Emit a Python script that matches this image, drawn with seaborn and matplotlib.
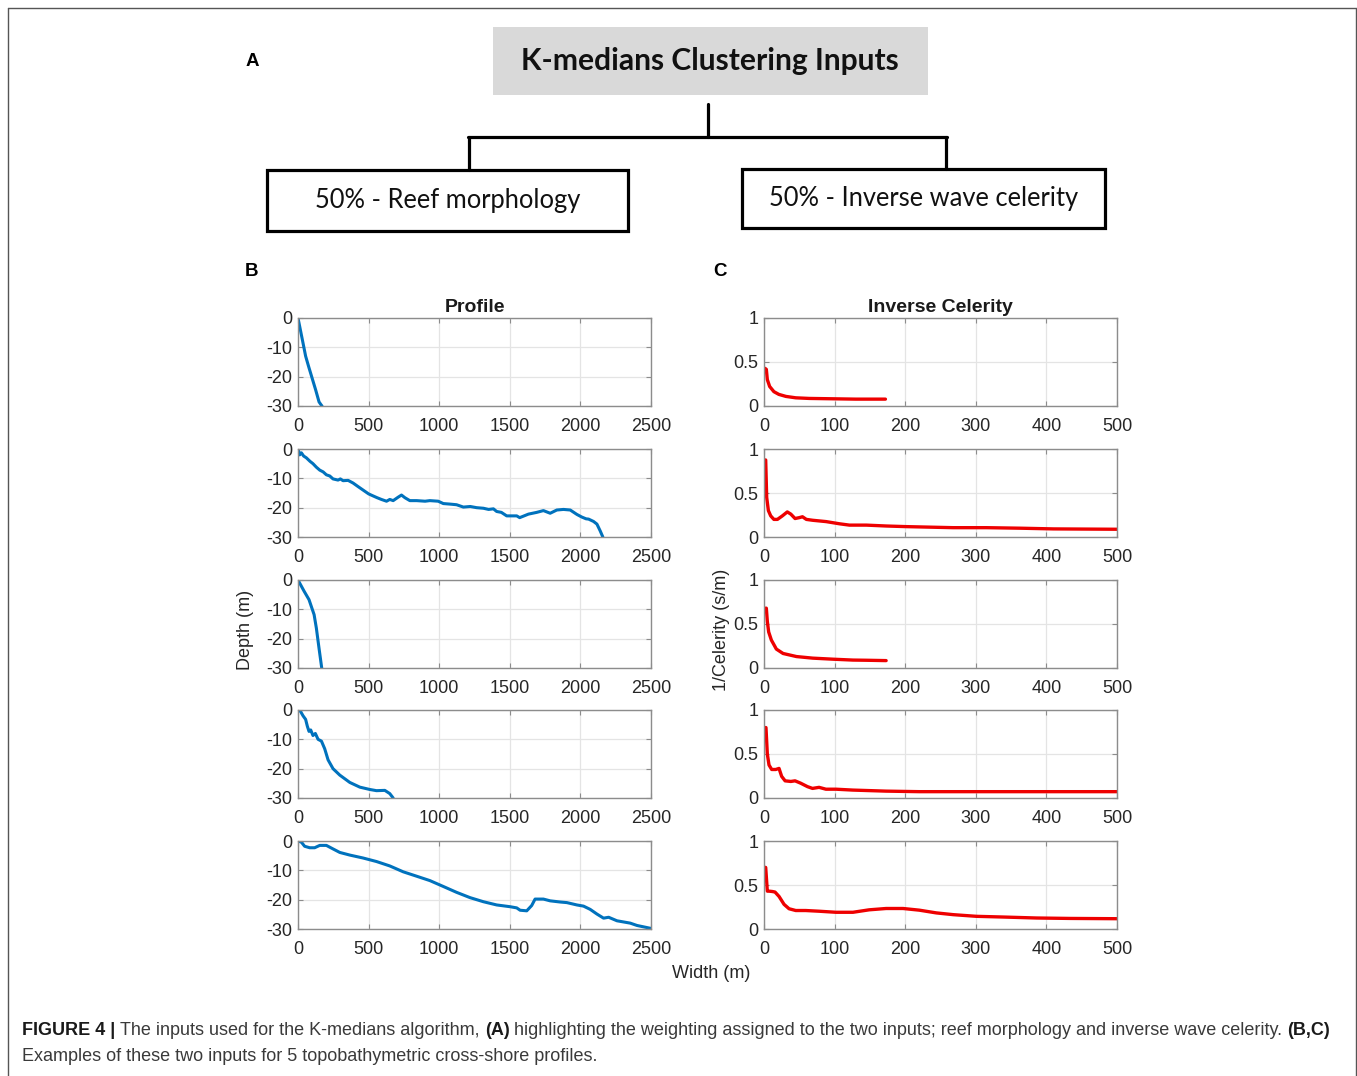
import numpy as np
import seaborn as sns

import matplotlib
matplotlib.use("Agg")  # headless mode (no GUI)

import matplotlib.pyplot as plt
from matplotlib.patches import Rectangle
from matplotlib.lines import Line2D

sns.set_theme(style="whitegrid")
plt.rcParams["font.family"] = ["Liberation Sans", "DejaVu Sans"]

# ---- data ----
# B: cross-shore profiles (width m, depth m)
prof1_x = [0, 20, 40, 54, 75, 100, 125, 149, 162, 170]
prof1_z = [0, -4.8, -9.6, -13, -16.5, -20.5, -24.5, -28.6, -29.5, -30]

prof2_x = [0, 12, 24, 40, 59, 85, 106, 130, 154, 178, 201, 225, 248, 284, 300, 319,
           355, 390, 425, 461, 500, 532, 560, 591, 627, 650, 674, 710, 733, 757,
           792, 840, 900, 934, 993, 1029, 1080, 1123, 1171, 1220, 1265, 1313, 1350,
           1384, 1407, 1440, 1478, 1549, 1570, 1596, 1632, 1691, 1738, 1786, 1833,
           1880, 1928, 1975, 2010, 2040, 2058, 2093, 2117, 2140, 2159]
prof2_z = [0, -2.0, -1.3, -2.4, -3.0, -4.2, -5.0, -6.2, -7.2, -7.8, -8.8, -9.2,
           -10.2, -10.6, -10.2, -10.8, -10.7, -11.6, -12.8, -14.0, -15.3, -16.0,
           -16.6, -17.2, -17.8, -17.2, -17.6, -16.4, -15.7, -16.6, -17.6, -17.6,
           -17.8, -17.6, -17.8, -18.6, -18.8, -19.0, -19.8, -19.6, -20.0, -20.2,
           -20.6, -20.4, -21.3, -21.6, -22.8, -22.8, -23.4, -22.9, -22.2, -21.6,
           -21.0, -21.9, -20.8, -20.6, -20.8, -22.3, -23.2, -23.8, -23.9, -24.7,
           -25.6, -27.9, -30]

prof3_x = [0, 43, 78, 114, 130, 149, 168]
prof3_z = [0, -3.8, -6.7, -11.8, -16.4, -23.3, -30]

prof4_x = [0, 17, 36, 54, 66, 78, 90, 106, 123, 142, 166, 189, 213, 248, 296, 367,
           438, 509, 556, 615, 650, 674]
prof4_z = [0, -0.4, -2.0, -3.2, -5.5, -7.3, -6.8, -8.7, -8.0, -10.0, -10.6, -13.2,
           -17.0, -20.0, -22.2, -24.7, -26.3, -27.1, -27.5, -27.4, -28.5, -30]

prof5_x = [0, 24, 47, 83, 118, 154, 201, 248, 296, 367, 461, 556, 650, 745, 840,
           934, 1029, 1123, 1218, 1313, 1407, 1502, 1549, 1573, 1620, 1655, 1679,
           1738, 1786, 1857, 1904, 1975, 2022, 2069, 2117, 2164, 2200, 2259, 2353,
           2401, 2500]
prof5_z = [0, -0.4, -1.8, -2.3, -2.3, -1.5, -1.5, -2.7, -3.9, -4.8, -5.8, -7.0, -8.5,
           -10.5, -12.0, -13.5, -15.5, -17.5, -19.3, -20.7, -21.8, -22.4, -22.8,
           -23.6, -23.8, -22.0, -19.8, -19.8, -20.4, -20.8, -21.0, -21.8, -22.2,
           -23.3, -24.9, -26.3, -26.0, -27.2, -28.0, -28.8, -29.8]

# C: inverse celerity (width m, s/m)
cel1_x = [1.4, 3.3, 4.7, 8, 14, 21, 31, 45, 64, 97, 130, 172]
cel1_y = [0.428, 0.416, 0.30, 0.222, 0.163, 0.132, 0.109, 0.093, 0.086, 0.082,
          0.078, 0.078]

cel2_x = [0.9, 2.4, 3.8, 6.2, 9.5, 14, 19, 26, 33, 38, 44, 50, 54.5, 60, 69, 88,
          107, 121, 145, 173, 201, 268, 315, 363, 410, 500]
cel2_y = [0.875, 0.875, 0.45, 0.30, 0.24, 0.20, 0.20, 0.24, 0.285, 0.26, 0.21,
          0.22, 0.23, 0.20, 0.19, 0.175, 0.15, 0.135, 0.135, 0.125, 0.118, 0.106,
          0.106, 0.10, 0.092, 0.088]

cel3_x = [2.4, 3.3, 4.7, 6.6, 10.4, 17.5, 27, 46, 69, 98, 126, 145, 173]
cel3_y = [0.68, 0.68, 0.53, 0.41, 0.318, 0.215, 0.165, 0.13, 0.112, 0.10, 0.09,
          0.088, 0.084]

cel4_x = [1.4, 2.8, 4.7, 7.1, 10.9, 16.6, 21.3, 25, 29.9, 38, 44, 52, 61.6, 68.7,
          78, 87.7, 102, 125.6, 173, 220, 315, 500]
cel4_y = [0.80, 0.80, 0.50, 0.375, 0.324, 0.324, 0.336, 0.246, 0.195, 0.188, 0.195,
          0.168, 0.129, 0.109, 0.121, 0.10, 0.10, 0.09, 0.078, 0.072, 0.072, 0.072]

cel5_x = [0.9, 2.4, 4.7, 7.1, 11.8, 15.6, 21.3, 28.4, 35.5, 45, 59, 78, 102, 126,
          149, 173, 197, 220, 244, 268, 301, 339, 386, 434, 500]
cel5_y = [0.70, 0.70, 0.43, 0.43, 0.426, 0.42, 0.37, 0.28, 0.23, 0.21, 0.21, 0.202,
          0.19, 0.19, 0.218, 0.233, 0.233, 0.214, 0.183, 0.163, 0.144, 0.136,
          0.125, 0.12, 0.117]

profiles = [(prof1_x, prof1_z), (prof2_x, prof2_z), (prof3_x, prof3_z),
            (prof4_x, prof4_z), (prof5_x, prof5_z)]
celerities = [(cel1_x, cel1_y), (cel2_x, cel2_y), (cel3_x, cel3_y),
              (cel4_x, cel4_y), (cel5_x, cel5_y)]

profile_xticks = [0, 500, 1000, 1500, 2000, 2500]
profile_yticks = [0, -10, -20, -30]
celerity_xticks = [0, 100, 200, 300, 400, 500]
celerity_yticks = [0, 0.5, 1]

# ---- figure ----
W, H = 1357, 1076


def fx(x):
    return x / W


def fy(y):
    return 1 - y / H


fig = plt.figure(figsize=(W / 100, H / 100), dpi=100)
fig.patch.set_facecolor("white")

EDGE = "#8c8c8c"
TXT = "#262626"


def style_axes(ax, xticks, yticks, ylabels):
    ax.set_facecolor("white")
    ax.set_xlim(xticks[0], xticks[-1])
    ax.set_ylim(min(yticks), max(yticks))
    ax.set_xticks(xticks)
    ax.set_xticklabels([str(t) for t in xticks])
    ax.set_yticks(yticks)
    ax.set_yticklabels(ylabels)
    ax.grid(True, color="#e4e4e4", lw=0.9)
    for sp in ax.spines.values():
        sp.set_visible(True)
        sp.set_color(EDGE)
        sp.set_linewidth(1.0)
    ax.tick_params(direction="in", length=3.5, width=0.8, color=EDGE,
                   top=True, right=True, bottom=True, left=True,
                   labelsize=13, labelcolor=TXT)
    ax.tick_params(axis="x", pad=8.5)
    ax.tick_params(axis="y", pad=4)
    ax.set_xlabel("")
    ax.set_ylabel("")


row_tops = [318, 449, 580, 710, 841]
row_h = 88
for i in range(5):
    bottom = fy(row_tops[i] + row_h)
    axb = fig.add_axes([fx(298), bottom, fx(651) - fx(298), row_h / H])
    px, pz = profiles[i]
    sns.lineplot(x=px, y=pz, ax=axb, color="#0072BD", lw=2.2, sort=False,
                 estimator=None)
    style_axes(axb, profile_xticks, profile_yticks,
               ["0", "-10", "-20", "-30"])

    axc = fig.add_axes([fx(764), bottom, fx(1117) - fx(764), row_h / H])
    cx, cy = celerities[i]
    sns.lineplot(x=cx, y=cy, ax=axc, color="#ee0000", lw=2.4, sort=False,
                 estimator=None)
    style_axes(axc, celerity_xticks, celerity_yticks, ["0", "0.5", "1"])
    if i == 0:
        axb.set_title("Profile", fontsize=14, fontweight="bold", color="#1a1a1a",
                      pad=4)
        axc.set_title("Inverse Celerity", fontsize=14, fontweight="bold",
                      color="#1a1a1a", pad=4)

fig.text(fx(246), fy(630), "Depth (m)", rotation=90, ha="center", va="center",
         fontsize=13, color=TXT)
fig.text(fx(721), fy(630), "1/Celerity (s/m)", rotation=90, ha="center",
         va="center", fontsize=13, color=TXT)
fig.text(fx(711), fy(973), "Width (m)", ha="center", va="center", fontsize=13,
         color=TXT)

# panel letters
for lab, x, y in [("A", 252, 61), ("B", 252, 271), ("C", 720, 271)]:
    fig.text(fx(x), fy(y), lab, ha="center", va="center", fontsize=13.5,
             fontweight="bold", color="black")

# ---- diagram (A) ----
diag_font = ["Lato", "DejaVu Sans"]
fig.add_artist(Rectangle((fx(493), fy(95)), fx(928) - fx(493), 68 / H,
                         transform=fig.transFigure, facecolor="#d9d9d9",
                         edgecolor="none"))
fig.text(fx(710), fy(61), "K-medians Clustering Inputs", ha="center",
         va="center", fontsize=21.6, fontweight="bold", family=diag_font,
         color="#111111")

for xs, ys in [([708, 708], [104, 137]), ([467.5, 947.5], [137, 137]),
               ([469, 469], [137, 170]), ([946, 946], [137, 169])]:
    fig.add_artist(Line2D([fx(v) for v in xs], [fy(v) for v in ys],
                          transform=fig.transFigure, color="black", lw=2.3))

for (x0, y0, x1, y1), label in [((267, 170, 628, 231), "50% - Reef morphology"),
                                ((742, 169, 1105, 228),
                                 "50% - Inverse wave celerity")]:
    fig.add_artist(Rectangle((fx(x0), fy(y1)), fx(x1) - fx(x0), (y1 - y0) / H,
                             transform=fig.transFigure, facecolor="white",
                             edgecolor="black", lw=2.3))
    fig.text(fx((x0 + x1) / 2), fy((y0 + y1) / 2), label, ha="center",
             va="center", fontsize=18.4, family=diag_font, color="#111111")

# ---- outer frame ----
for xs, ys in [([8, 8], [8, 1076]), ([8, 1356], [8, 8]), ([1356, 1356], [8, 1076])]:
    fig.add_artist(Line2D([fx(v) for v in xs], [fy(v) for v in ys],
                          transform=fig.transFigure, color="#555555", lw=1.0))

# ---- caption ----
cap_font = ["Liberation Sans", "DejaVu Sans"]
cap_size = 13.0
renderer = fig.canvas.get_renderer()


def text_width(s, bold):
    t = fig.text(0, 0, s, fontsize=cap_size, family=cap_font,
                 fontweight="bold" if bold else "normal")
    w = t.get_window_extent(renderer).width
    t.remove()
    return w


space_w = text_width("a a", False) - text_width("aa", False)


def rich_line(x, y, parts):
    for k, (s, bold) in enumerate(parts):
        t = fig.text(fx(x), fy(y), s, fontsize=cap_size, family=cap_font,
                     fontweight="bold" if bold else "normal",
                     color="#1a1a1a" if bold else "#3a3a3a", va="baseline")
        x += t.get_window_extent(renderer).width + space_w


rich_line(22, 1035, [("FIGURE 4 |", True),
                     ("The inputs used for the K-medians algorithm,", False),
                     ("(A)", True),
                     ("highlighting the weighting assigned to the two inputs; "
                      "reef morphology and inverse wave celerity.", False),
                     ("(B,C)", True)])
rich_line(22, 1061, [("Examples of these two inputs for 5 topobathymetric "
                      "cross-shore profiles.", False)])

fig.savefig("out.png", dpi=100, facecolor="white")
